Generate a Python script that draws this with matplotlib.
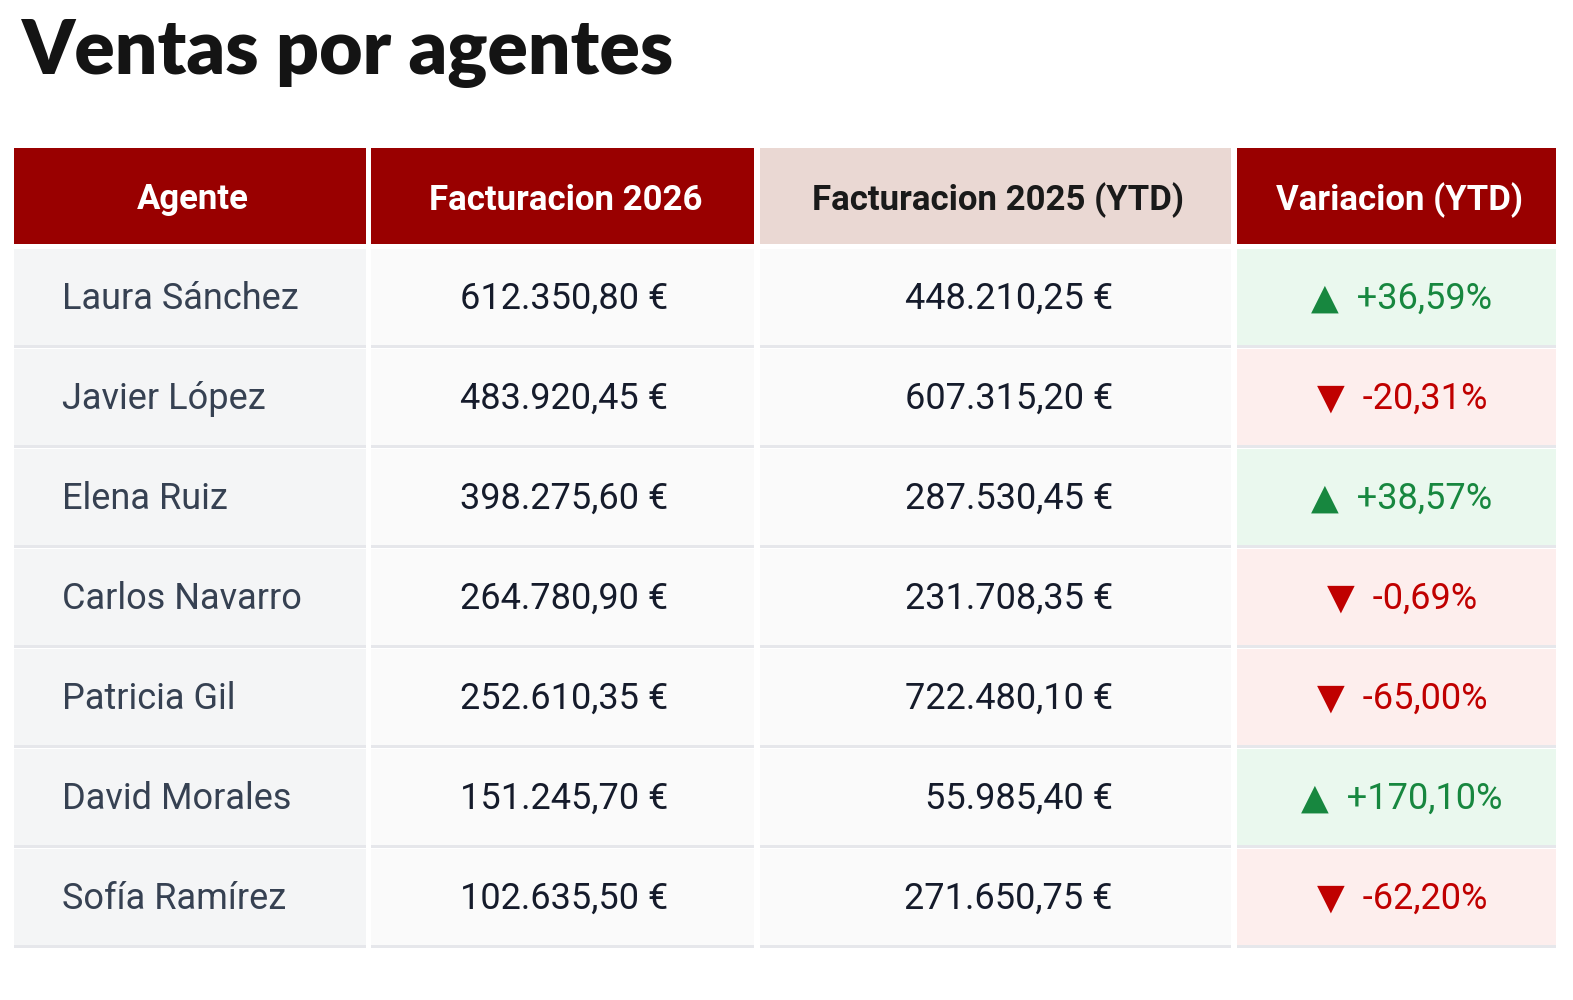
import matplotlib
matplotlib.use("Agg")
import matplotlib.pyplot as plt
from matplotlib.patches import Rectangle
from matplotlib import font_manager as fm

# ---- data ----
title = "Ventas por agentes"
headers = ["Agente", "Facturacion 2026", "Facturacion 2025 (YTD)", "Variacion (YTD)"]
agents = ["Laura Sánchez", "Javier López", "Elena Ruiz", "Carlos Navarro",
          "Patricia Gil", "David Morales", "Sofía Ramírez"]
fact_2026 = ["612.350,80 €", "483.920,45 €", "398.275,60 €", "264.780,90 €",
             "252.610,35 €", "151.245,70 €", "102.635,50 €"]
fact_2025 = ["448.210,25 €", "607.315,20 €", "287.530,45 €", "231.708,35 €",
             "722.480,10 €", "55.985,40 €", "271.650,75 €"]
variation = [36.59, -20.31, 38.57, -0.69, -65.00, 170.10, -62.20]
var_up = [True, False, True, False, False, True, False]

def fmt_pct(v):
    s = f"{abs(v):.2f}".replace(".", ",")
    return ("+" if v >= 0 else "-") + s + "%"

FAM = ["Roboto", "DejaVu Sans"]

W, H = 1573, 1000
fig = plt.figure(figsize=(W / 100, H / 100), dpi=100)
ax = fig.add_axes([0, 0, 1, 1])
ax.set_xlim(0, W)
ax.set_ylim(H, 0)
ax.axis("off")
fig.patch.set_facecolor("white")

ax.text(22, 74, title, fontsize=54, fontweight="heavy", family=["Lato", "DejaVu Sans"],
        color="#141414", ha="left", va="baseline")

cols = [(14, 366), (371, 754), (760, 1231), (1237, 1556)]
head_y0, head_y1 = 148, 244
row_y0 = 247
row_h = 100

dark_red = "#990000"
head_fc = [dark_red, dark_red, "#EAD8D3", dark_red]
head_tc = ["white", "white", "#1A1A1A", "white"]

for (x0, x1), h, fc, tc in zip(cols, headers, head_fc, head_tc):
    ax.add_patch(Rectangle((x0, head_y0), x1 - x0, head_y1 - head_y0, fc=fc, ec="none"))
    ax.text((x0 + x1) / 2 + 3, (head_y0 + head_y1) / 2 + 4, h, fontsize=25, fontweight="bold",
            family=FAM, color=tc, ha="center", va="center")

green_bg, red_bg = "#EAF8EE", "#FDEEED"
green_tx, red_tx = "#17873F", "#C00000"

for i, name in enumerate(agents):
    y0 = row_y0 + i * row_h
    y1 = y0 + row_h
    yc = (y0 + y1) / 2 + 2
    for j, (x0, x1) in enumerate(cols):
        if j == 0:
            fc = "#F4F5F6"
        elif j == 3:
            fc = green_bg if var_up[i] else red_bg
        else:
            fc = "#FAFAFA"
        ax.add_patch(Rectangle((x0, y0 + 2), x1 - x0, row_h - 4, fc=fc, ec="none"))
        ax.add_patch(Rectangle((x0, y1 - 2), x1 - x0, 3, fc="#E6E7EB", ec="none"))
    ax.text(62, yc, name, fontsize=26, family=FAM, color="#364152", ha="left", va="center")
    ax.text(668, yc, fact_2026[i], fontsize=26, family=FAM, color="#151B2B", ha="right", va="center")
    ax.text(1113, yc, fact_2025[i], fontsize=26, family=FAM, color="#151B2B", ha="right", va="center")
    arrow = "▲" if var_up[i] else "▼"
    col = green_tx if var_up[i] else red_tx
    ax.text(1402, yc, arrow + "  " + fmt_pct(variation[i]), fontsize=26, family=FAM,
            color=col, ha="center", va="center")

fig.savefig("out.png", dpi=100, facecolor="white")
